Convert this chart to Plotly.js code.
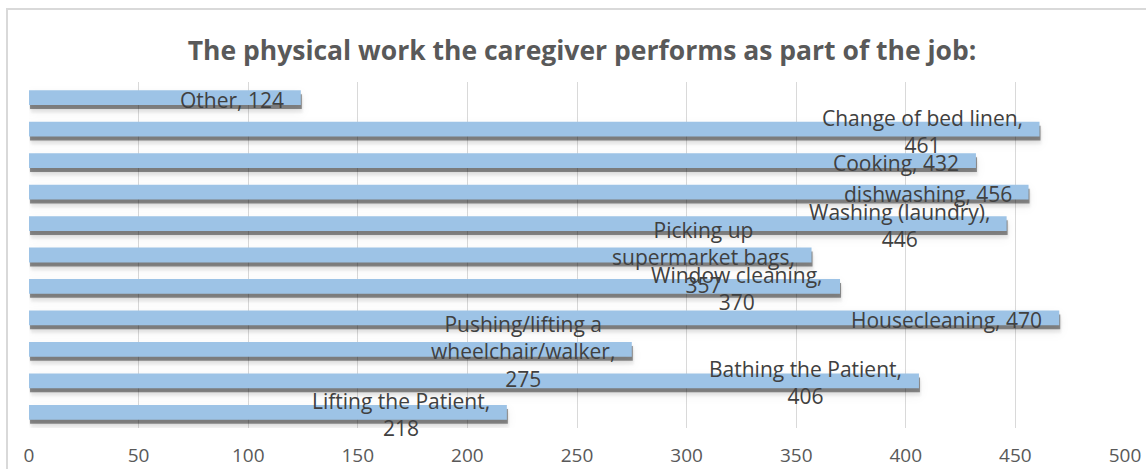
<!DOCTYPE html>
<html>
<head>
<meta charset="utf-8">
<script src="https://cdn.plot.ly/plotly-3.0.1.min.js"></script>
<style>
  html, body { margin: 0; padding: 0; background: #ffffff; }
  #wrap { position: relative; width: 1146px; height: 469px; overflow: hidden; }
  #chart { position: absolute; left: 0; top: 0; width: 1146px; height: 469px; }
  #frame { position: absolute; left: 6px; top: 8px; width: 1160px; height: 480px;
           border: 2px solid #d9d9d9; box-sizing: border-box; pointer-events: none; }
  .barlayer .point path {
    filter: drop-shadow(1px 4px 0.6px rgba(0,0,0,0.40))
            drop-shadow(1px 4px 0.8px rgba(0,0,0,0.15))
            drop-shadow(0px 4px 5px rgba(0,0,0,0.07));
  }
</style>
</head>
<body>
<div id="wrap">
  <div id="chart"></div>
  <div id="frame"></div>
</div>
<script>
// Data (bottom to top, as drawn)
const categories = [
  "Lifting the Patient",
  "Bathing the Patient",
  "Pushing/lifting a wheelchair/walker",
  "Housecleaning",
  "Window cleaning",
  "Picking up supermarket bags",
  "Washing (laundry)",
  "dishwashing",
  "Cooking",
  "Change of bed linen",
  "Other"
];
const values = [218, 406, 275, 470, 370, 357, 446, 456, 432, 461, 124];
const xTickValues = [0, 50, 100, 150, 200, 250, 300, 350, 400, 450, 500];
const chartTitle = "The physical work the caregiver performs as part of the job:";

const labelFontSize = 21;
const labelFontFamily = "Open Sans";

// greedy word wrap of the data labels, like the spreadsheet's label box
const ctx = document.createElement("canvas").getContext("2d");
ctx.font = labelFontSize + "px '" + labelFontFamily + "'";
const maxLabelWidth = 9.9 * labelFontSize;
function wrapLabel(str) {
  const words = str.split(" ");
  const lines = [];
  let cur = "";
  words.forEach(w => {
    const test = cur ? cur + " " + w : w;
    if (cur && ctx.measureText(test).width > maxLabelWidth) {
      lines.push(cur);
      cur = w;
    } else {
      cur = test;
    }
  });
  if (cur) lines.push(cur);
  return lines.join("<br>");
}

const trace = {
  type: "bar",
  orientation: "h",
  y: categories,
  x: values,
  marker: { color: "#9dc3e6", line: { width: 0 } },
  hoverinfo: "y+x"
};

const annotations = categories.map((c, i) => ({
  x: values[i],
  y: c,
  xref: "x",
  yref: "y",
  xanchor: "right",
  yanchor: "middle",
  align: "center",
  showarrow: false,
  xshift: -15,
  yshift: -2,
  text: wrapLabel(c + ", " + values[i]),
  font: { family: labelFontFamily, size: labelFontSize, color: "#404040" }
}));

const layout = {
  width: 1146,
  height: 469,
  margin: { l: 29, r: 21, t: 82, b: 41, pad: 0, autoexpand: false },
  paper_bgcolor: "rgba(0,0,0,0)",
  plot_bgcolor: "rgba(0,0,0,0)",
  showlegend: false,
  bargap: 0.53,
  title: {
    text: "<b>" + chartTitle + "</b>",
    x: 582 / 1146,
    xanchor: "center",
    xref: "container",
    y: 1 - 51 / 469,
    yref: "container",
    yanchor: "middle",
    automargin: false,
    font: { family: "Open Sans", size: 26.5, color: "#595959" }
  },
  xaxis: {
    range: [0, 500],
    tickvals: xTickValues,
    ticktext: xTickValues.map(String),
    showgrid: true,
    gridcolor: "#d9d9d9",
    gridwidth: 1,
    zeroline: false,
    showline: false,
    ticks: "",
    automargin: false,
    ticklabelstandoff: 14,
    tickfont: { family: "Open Sans", size: 19, color: "#595959" },
    fixedrange: true
  },
  yaxis: {
    type: "category",
    categoryorder: "array",
    categoryarray: categories,
    range: [-0.5, categories.length - 0.5],
    showticklabels: false,
    showgrid: false,
    zeroline: false,
    showline: false,
    ticks: "",
    automargin: false,
    fixedrange: true
  },
  annotations: annotations
};

Plotly.newPlot("chart", [trace], layout, { displayModeBar: false, staticPlot: true });
</script>
</body>
</html>
